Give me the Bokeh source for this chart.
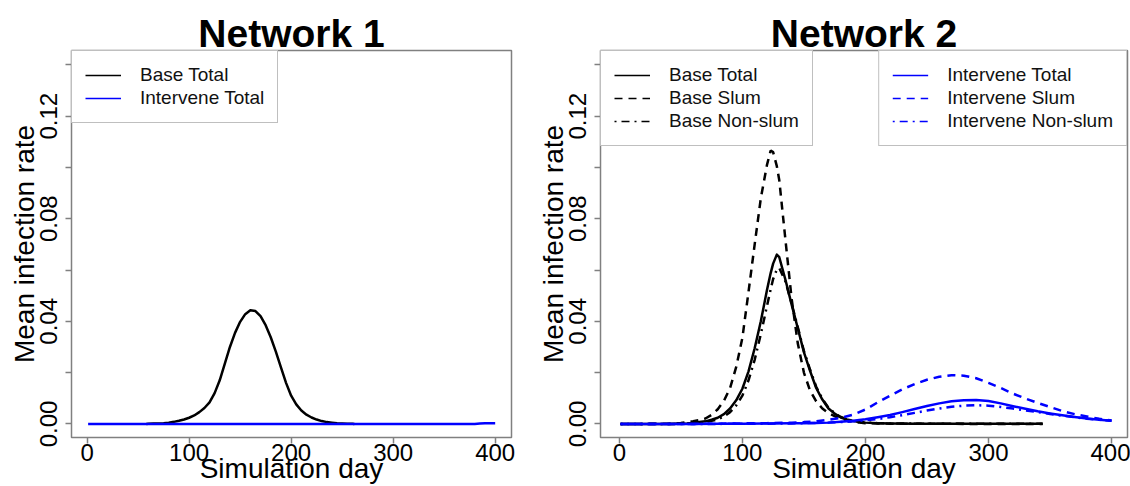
import math
from bokeh.plotting import figure
from bokeh.layouts import row
from bokeh.models import Range1d, FixedTicker, Legend, LegendItem, PrintfTickFormatter
from bokeh.embed import file_html
from bokeh.resources import INLINE

FONT = "Liberation Sans"
GRAY = "#808080"
BLUE = "#0000FF"

# ---------------- data ----------------
titles = ["Network 1", "Network 2"]
x_ticks = [0, 100, 200, 300, 400]
y_ticks_major = [0.0, 0.04, 0.08, 0.12]
y_ticks_minor = [0.02, 0.06, 0.10, 0.14]

# Network 1
n1_base_day = [58, 60, 65, 70, 75, 80, 85, 90, 95, 100, 105, 110, 115, 120, 125, 130, 135, 140,
               145, 150, 155, 160, 165, 170, 175, 180, 185, 190, 195, 200, 205, 210, 215, 220,
               225, 230, 235, 240, 245, 250, 255, 260, 262]
n1_base_total = [0.0000, 0.0001, 0.00015, 0.0002, 0.0003, 0.0005, 0.0008, 0.0012, 0.0017, 0.0024,
                 0.0033, 0.0046, 0.0062, 0.0084, 0.0120, 0.0170, 0.0235, 0.0300, 0.0355, 0.0398,
                 0.0428, 0.0443, 0.0440, 0.0420, 0.0385, 0.0338, 0.0282, 0.0220, 0.0160, 0.0110,
                 0.0076, 0.0052, 0.0036, 0.0025, 0.0017, 0.0011, 0.0007, 0.0005, 0.0003, 0.0002,
                 0.0001, 0.0001, 0.0000]
n1_int_day = [1, 380, 385, 390, 395, 400]
n1_int_total = [0.0, 0.0, 0.0002, 0.0003, 0.0003, 0.0003]

# Network 2 - base scenario
n2_base_day = [1, 20, 40, 45, 50, 55, 60, 65, 70, 75, 80, 85, 90, 95, 100, 105, 110, 115, 120,
               123, 125, 128, 130, 135, 140, 145, 150, 155, 160, 165, 170, 175, 180, 185, 190,
               195, 200, 210, 220, 240, 260, 280, 300, 320, 344]
n2_base_total = [0, 0, 0.0000, 0.0001, 0.0001, 0.0002, 0.0004, 0.0007, 0.0010, 0.0016, 0.0024,
                 0.0038, 0.0060, 0.0092, 0.0137, 0.0205, 0.0295, 0.0400, 0.0522,
                 0.0588, 0.0625, 0.0660, 0.0650,
                 0.0562, 0.0466, 0.0374, 0.0280, 0.0207, 0.0140, 0.0095, 0.0060, 0.0040, 0.0025,
                 0.0017, 0.0011, 0.0008, 0.0005,
                 0.0003, 0.0002, 0.0001, 0.0001, 0.0001, 0.0001, 0.0001, 0.0001]
n2_base_slum = [0, 0, 0.0001, 0.0002, 0.0004, 0.0007, 0.0010, 0.0015, 0.0021, 0.0035, 0.0057,
                0.0090, 0.0140, 0.0222, 0.0335, 0.0515, 0.0700, 0.0880, 0.1010,
                0.1066, 0.1060, 0.1005, 0.0950,
                0.0718, 0.0490, 0.0315, 0.0200, 0.0130, 0.0088, 0.0060, 0.0042, 0.0030, 0.0020,
                0.0012, 0.0008, 0.0005, 0.0003,
                0.0002, 0.0001, 0.0001, 0.0001, 0.0000, 0.0000, 0.0000, 0.0000]
n2_base_nonslum = [0, 0, 0.0000, 0.0000, 0.0001, 0.0001, 0.0003, 0.0005, 0.0008, 0.0012, 0.0018,
                   0.0029, 0.0046, 0.0072, 0.0110, 0.0170, 0.0250, 0.0350, 0.0460,
                   0.0525, 0.0565, 0.0602, 0.0608,
                   0.0555, 0.0470, 0.0378, 0.0285, 0.0212, 0.0145, 0.0098, 0.0063, 0.0042, 0.0027,
                   0.0018, 0.0012, 0.0008, 0.0005,
                   0.0003, 0.0002, 0.0001, 0.0001, 0.0001, 0.0001, 0.0001, 0.0001]

# Network 2 - intervention scenario
n2_int_day = [1, 20, 40, 60, 80, 100, 120, 140, 150, 160, 170, 180, 190, 200, 210, 220, 230, 240,
              250, 260, 270, 280, 290, 300, 310, 320, 330, 340, 350, 360, 370, 380, 390, 400]
n2_int_total = [0, 0, 0, 0, 0.0001, 0.0001, 0.0002, 0.0003, 0.0003, 0.0004, 0.0005, 0.0008,
                0.0012, 0.0018, 0.0026, 0.0035, 0.0046, 0.0058, 0.0070, 0.0080, 0.0088, 0.0092,
                0.0093, 0.0089, 0.0080, 0.0069, 0.0059, 0.0049, 0.0041, 0.0034, 0.0027, 0.0021,
                0.0016, 0.0012]
n2_int_slum = [0, 0, 0, 0, 0.0001, 0.0002, 0.0003, 0.0005, 0.0007, 0.0010, 0.0016, 0.0024,
               0.0036, 0.0056, 0.0084, 0.0110, 0.0135, 0.0155, 0.0172, 0.0184, 0.0190, 0.0188,
               0.0178, 0.0160, 0.0140, 0.0118, 0.0099, 0.0082, 0.0066, 0.0050, 0.0038, 0.0029,
               0.0020, 0.0013]
n2_int_nonslum = [0, 0, 0, 0, 0, 0.0001, 0.0001, 0.0002, 0.0003, 0.0004, 0.0005, 0.0007,
                  0.0010, 0.0014, 0.0019, 0.0026, 0.0034, 0.0043, 0.0052, 0.0060, 0.0067, 0.0071,
                  0.0073, 0.0071, 0.0066, 0.0060, 0.0053, 0.0046, 0.0039, 0.0032, 0.0026, 0.0020,
                  0.0016, 0.0012]

DASH = "8 6"
DOTDASH = "2 5 8 5"
LW = 2.5
LEG_LW = 1.5


def make_fig(title, width, border_left, border_right, x_end):
    p = figure(width=width, height=486, title=title,
               x_range=Range1d(-15.3, x_end), y_range=Range1d(-0.0053, 0.1456),
               output_backend="svg", toolbar_location=None,
               min_border_left=border_left, min_border_right=border_right,
               min_border_top=50, min_border_bottom=48)
    p.xgrid.visible = False
    p.ygrid.visible = False
    p.outline_line_color = GRAY
    p.outline_line_width = 1.5
    p.background_fill_color = "white"
    p.border_fill_color = "white"
    p.title.text_font = FONT
    p.title.text_font_size = "39px"
    p.title.text_font_style = "bold"
    p.title.text_color = "black"
    p.title.align = "center"
    p.title.standoff = -8

    xa = p.xaxis[0]
    xa.ticker = FixedTicker(ticks=x_ticks)
    xa.axis_line_color = None
    xa.major_tick_line_color = GRAY
    xa.major_tick_line_width = 1.5
    xa.major_tick_out = 6
    xa.major_tick_in = 0
    xa.minor_tick_line_color = None
    xa.major_label_text_font = FONT
    xa.major_label_text_font_size = "24px"
    xa.major_label_text_color = "black"
    xa.major_label_standoff = 0
    xa.axis_label = "Simulation day"
    xa.axis_label_text_font = FONT
    xa.axis_label_text_font_size = "28px"
    xa.axis_label_text_font_style = "normal"
    xa.axis_label_text_color = "black"
    xa.axis_label_text_line_height = 0.8
    xa.axis_label_standoff = -11

    ya = p.yaxis[0]
    ya.ticker = FixedTicker(ticks=y_ticks_major, minor_ticks=y_ticks_minor)
    ya.formatter = PrintfTickFormatter(format="%.2f")
    ya.axis_line_color = None
    ya.major_tick_line_color = GRAY
    ya.major_tick_line_width = 1.5
    ya.major_tick_out = 6
    ya.major_tick_in = 0
    ya.minor_tick_line_color = GRAY
    ya.minor_tick_line_width = 1.5
    ya.minor_tick_out = 6
    ya.minor_tick_in = 0
    ya.major_label_orientation = "vertical"
    ya.major_label_text_font = FONT
    ya.major_label_text_font_size = "24px"
    ya.major_label_text_color = "black"
    ya.major_label_standoff = 8
    ya.axis_label = "Mean infection rate"
    ya.axis_label_text_font = FONT
    ya.axis_label_text_font_size = "28px"
    ya.axis_label_text_font_style = "normal"
    ya.axis_label_text_color = "black"
    ya.axis_label_standoff = -2
    return p


def make_legend(p, entries, location):
    items = []
    for label, color, dash in entries:
        # sample renderer kept outside the visible range; only used for its legend swatch
        r = p.line(x=[-100, -90], y=[-1, -1], line_color=color, line_width=LEG_LW, line_dash=dash)
        items.append(LegendItem(label=label, renderers=[r]))
    leg = Legend(items=items, location=location, margin=0, padding=13, spacing=1,
                 border_line_color=GRAY, border_line_width=1.5,
                 background_fill_color="white", background_fill_alpha=1.0,
                 label_text_font=FONT, label_text_font_size="19px", label_text_color="#111111",
                 glyph_width=36, glyph_height=22, label_height=22, label_standoff=19)
    p.add_layout(leg)


# ---------------- Network 1 ----------------
p1 = make_fig(titles[0], 528, 71, 17, 416)
p1.line(n1_base_day, n1_base_total, line_color="black", line_width=LW, line_join="round")
p1.line(n1_int_day, n1_int_total, line_color=BLUE, line_width=LW, line_join="round")
make_legend(p1, [("Base Total", "black", "solid"), ("Intervene Total", BLUE, "solid")], "top_left")

# ---------------- Network 2 ----------------
p2 = make_fig(titles[1], 602, 72, 3, 413)
p2.line(n2_base_day, n2_base_total, line_color="black", line_width=LW, line_join="round")
p2.line(n2_base_day, n2_base_slum, line_color="black", line_width=LW, line_dash=DASH)
p2.line(n2_base_day, n2_base_nonslum, line_color="black", line_width=LW, line_dash=DOTDASH)
p2.line(n2_int_day, n2_int_total, line_color=BLUE, line_width=LW, line_join="round")
p2.line(n2_int_day, n2_int_slum, line_color=BLUE, line_width=LW, line_dash=DASH)
p2.line(n2_int_day, n2_int_nonslum, line_color=BLUE, line_width=LW, line_dash=DOTDASH)
make_legend(p2, [("Base Total", "black", "solid"), ("Base Slum", "black", DASH),
                 ("Base Non-slum", "black", DOTDASH)], "top_left")
make_legend(p2, [("Intervene Total", BLUE, "solid"), ("Intervene Slum", BLUE, DASH),
                 ("Intervene Non-slum", BLUE, DOTDASH)], "top_right")

layout = row(p1, p2, spacing=0)
open("out.html", "w").write(file_html(layout, INLINE))
